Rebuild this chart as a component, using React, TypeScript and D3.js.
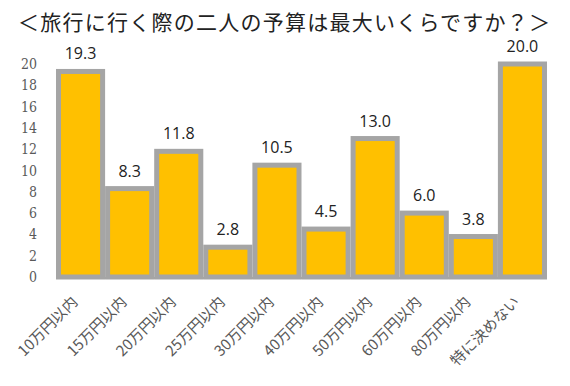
import React from "react";
import * as d3 from "d3";

const title = "＜旅行に行く際の二人の予算は最大いくらですか？＞";
const categories = ["10万円以内", "15万円以内", "20万円以内", "25万円以内", "30万円以内", "40万円以内", "50万円以内", "60万円以内", "80万円以内", "特に決めない"];
const values = [19.3, 8.3, 11.8, 2.8, 10.5, 4.5, 13.0, 6.0, 3.8, 20.0];
const yTicks = [0, 2, 4, 6, 8, 10, 12, 14, 16, 18, 20];

export default function App() {
  const W = 570, H = 386;
  const left = 56, right = 547, top = 64, bottom = 277;
  const x = d3.scaleBand<string>().domain(categories).range([left, right]).padding(0);
  const y = d3.scaleLinear().domain([0, 20]).range([bottom, top]);
  const sw = 5;
  return (
    <div style={{ position: "absolute", left: 0, top: 0 }}>
      <svg width={W} height={H} style={{ display: "block", background: "#fff" }}>
        <text x={18} y={30} fontSize={21} fill="#222" textLength={532} lengthAdjust="spacing"
          fontFamily="'Noto Sans CJK JP', sans-serif">{title}</text>
        {yTicks.map(t => (
          <text key={t} x={37} y={y(t) + 5} textAnchor="end" fontSize={15}
            fontFamily="'DejaVu Serif', serif" fill="#595959" textLength={t >= 10 ? 16 : 8} lengthAdjust="spacingAndGlyphs">{t}</text>
        ))}
        {categories.map((c, i) => {
          const x0 = x(c)!, bw = x.bandwidth();
          return (
            <rect key={c} x={x0 + sw / 2} y={y(values[i])} width={bw - sw} height={bottom - y(values[i])}
              fill="#FFC000" stroke="#A5A5A5" strokeWidth={sw} />
          );
        })}
        <line x1={left} x2={right} y1={bottom + 1} y2={bottom + 1} stroke="#A5A5A5" strokeWidth={2} />
        {categories.map((c, i) => (
          <text key={"v" + c} x={x(c)! + x.bandwidth() / 2} y={y(values[i]) - 12} textAnchor="middle"
            fontSize={16} fontFamily="'Open Sans', sans-serif" fill="#222">{values[i].toFixed(1)}</text>
        ))}
        {categories.map(c => {
          const cx = x(c)! + x.bandwidth() / 2 - 2;
          const cy = 303;
          return (
            <text key={"c" + c} transform={`translate(${cx},${cy}) rotate(-45)`} textAnchor="end"
              fontSize={15} fontFamily="'Noto Sans CJK JP', sans-serif" fill="#595959">{c}</text>
          );
        })}
      </svg>
    </div>
  );
}
